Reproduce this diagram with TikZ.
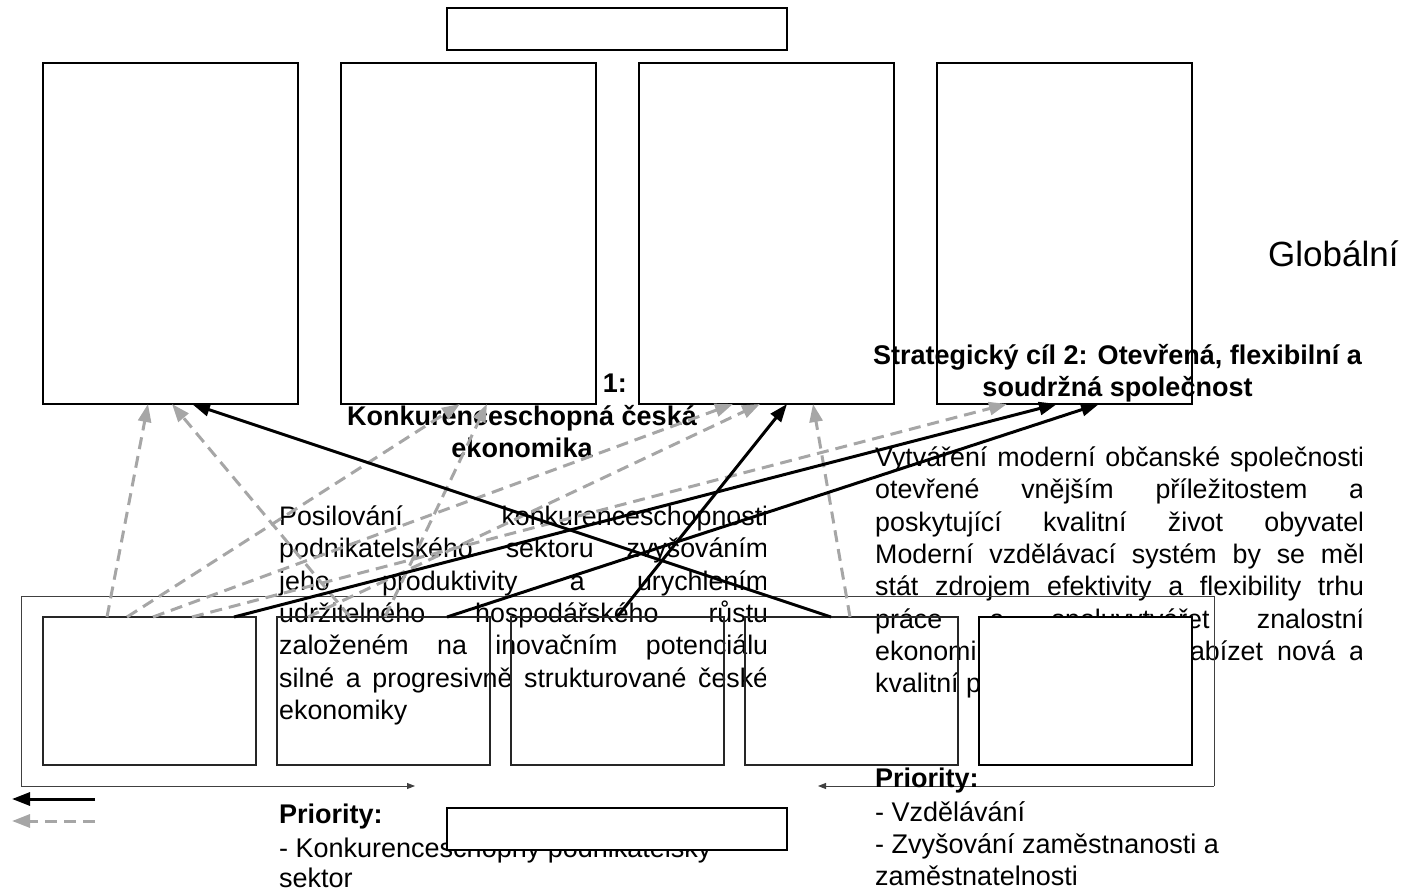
\documentclass[tikz,border=0pt]{standalone}
\usepackage{fontspec}
\setmainfont{Liberation Sans}
\usetikzlibrary{arrows.meta}
\begin{document}
\begin{tikzpicture}[x=1pt,y=-1pt,
  box/.style={draw=black, line width=1.2pt, fill=white, inner sep=0pt, outer sep=0pt, anchor=north west},
  obox/.style={draw=black!85, line width=1.1pt, inner sep=0pt, outer sep=0pt, anchor=north west},
  body/.style={inner sep=0pt, anchor=base west, font=\fontsize{26.8}{32}\selectfont},
  head/.style={inner sep=0pt, anchor=base, font=\fontsize{27}{32}\selectfont\bfseries},
  prio/.style={inner sep=0pt, anchor=base west, font=\fontsize{27}{32}\selectfont},
  priob/.style={inner sep=0pt, anchor=base west, font=\fontsize{27}{32}\selectfont\bfseries},
  framel/.style={draw=black!75, line width=0.9pt},
  framearr/.style={draw=black!75, line width=0.9pt, -{Triangle[length=8pt,width=6pt]}},
  sarr/.style={draw=black, line width=3pt, -{Triangle[length=18pt,width=13pt]}},
  darr/.style={draw=black!35, line width=3pt, dash pattern=on 12pt off 7pt, -{Triangle[length=18pt,width=13pt]}}
]
\useasboundingbox (0,0) rectangle (1403,890);

% top boxes
\node[box, minimum width=255pt, minimum height=341pt] (A) at (43,63) {};
\node[box, minimum width=255pt, minimum height=341pt] (B) at (341,63) {};
\node[box, minimum width=255pt, minimum height=341pt] (C) at (639,63) {};
\node[box, minimum width=255pt, minimum height=341pt] (D) at (937,63) {};
\node[box, minimum width=340pt, minimum height=42pt] (T) at (447,8) {};

% texts
\node[inner sep=0pt, anchor=base west, font=\fontsize{35}{40}\selectfont] (glob) at (1268,267) {Globální};
\node[head, anchor=base east] (h1a) at (627,393) {1:};
\node[head] (h1b) at (522,425) {Konkurenceschopná česká};
\node[head] (h1c) at (522,457) {ekonomika};
\node[head] (h2a) at (1117.5,365) {Strategický cíl 2: Otevřená, flexibilní a};
\node[head] (h2b) at (1117.5,397) {soudržná společnost};

\begin{scope}
\clip (270,480) rectangle (765,740);
\node[body] (l1) at (279,525) {\makebox[489pt][s]{Posilování konkurenceschopnosti}};
\node[body] (l2) at (279,557) {\makebox[489pt][s]{podnikatelského sektoru zvyšováním}};
\node[body] (l3) at (279,590) {\makebox[489pt][s]{jeho produktivity a urychlením}};
\node[body] (l4) at (279,622) {\makebox[489pt][s]{udržitelného hospodářského růstu}};
\node[body] (l5) at (279,654) {\makebox[489pt][s]{založeném na inovačním potenciálu}};
\node[body] (l6) at (279,687) {\makebox[489pt][s]{silné a progresivně strukturované české}};
\node[body] (l7) at (279,719) {ekonomiky};
\end{scope}

\begin{scope}
\clip (866,420) rectangle (1361,710);
\node[body] (r1) at (875,466) {\makebox[489pt][s]{Vytváření moderní občanské společnosti}};
\node[body] (r2) at (875,498) {\makebox[489pt][s]{otevřené vnějším příležitostem a}};
\node[body] (r3) at (875,531) {\makebox[489pt][s]{poskytující kvalitní život obyvatel}};
\node[body] (r4) at (875,563) {\makebox[489pt][s]{Moderní vzdělávací systém by se měl}};
\node[body] (r5) at (875,595) {\makebox[489pt][s]{stát zdrojem efektivity a flexibility trhu}};
\node[body] (r6) at (875,628) {\makebox[489pt][s]{práce a spoluvytvářet znalostní}};
\node[body] (r7) at (875,660) {\makebox[489pt][s]{ekonomiku, která bude nabízet nová a}};
\node[body] (r8) at (875,692) {kvalitní pracovní místa.};
\end{scope}

% bottom boxes
\node[obox, minimum width=213pt, minimum height=148pt] (P1) at (43,617) {};
\node[obox, minimum width=213pt, minimum height=148pt] (P2) at (277,617) {};
\node[obox, minimum width=213pt, minimum height=148pt] (P3) at (511,617) {};
\node[obox, minimum width=213pt, minimum height=148pt] (P4) at (745,617) {};

% frame
\node[inner sep=0pt, outer sep=0pt, anchor=north west, minimum width=1193pt, minimum height=190pt] (F) at (21,596) {};
\draw[framel] (F.south west) -- (F.north west) -- (F.north east) -- (F.south east);
\draw[framearr] (F.south west) -- ([xshift=394pt]F.south west);
\draw[framearr] (F.south east) -- ([xshift=-396pt]F.south east);

\node[box, minimum width=213pt, minimum height=148pt] (P5) at (979,617) {};

% priorities
\node[priob] (pl0) at (279,823) {Priority:};
\node[prio] (pl1) at (279,857) {- Konkurenceschopný podnikatelský};
\node[prio] (pl2) at (279,887) {sektor};
\node[priob] (pr0) at (875,787) {Priority:};
\node[prio] (pr1) at (875,821) {- Vzdělávání};
\node[prio] (pr2) at (875,853) {- Zvyšování zaměstnanosti a};
\node[prio] (pr3) at (875,885) {zaměstnatelnosti};

\node[box, minimum width=340pt, minimum height=42pt] (Bs) at (447,808) {};

% dashed connectors
\draw[darr] ([xshift=64pt]P1.north west) -- ([xshift=105pt]A.south west);
\draw[darr] ([xshift=84pt]P1.north west) -- ([xshift=119pt]B.south west);
\draw[darr] ([xshift=110pt]P1.north west) -- ([xshift=94pt]C.south west);
\draw[darr] ([xshift=149pt]P1.north west) -- ([xshift=70pt]D.south west);
\draw[darr] ([xshift=73pt]P2.north west) -- ([xshift=129pt]A.south west);
\draw[darr] ([xshift=108pt]P2.north west) -- ([xshift=146pt]B.south west);
\draw[darr] ([xshift=31pt]P2.north west) -- ([xshift=121pt]C.south west);
\draw[darr] ([xshift=105pt]P4.north west) -- ([xshift=174pt]C.south west);

% solid connectors
\draw[sarr] ([xshift=86pt]P4.north west) -- ([xshift=149pt]A.south west);
\draw[sarr] ([xshift=191pt]P1.north west) -- ([xshift=120pt]D.south west);
\draw[sarr] ([xshift=170pt]P2.north west) -- ([xshift=162pt]D.south west);
\draw[sarr] ([xshift=106pt]P3.north west) -- ([xshift=148pt]C.south west);

% legend
\coordinate (ls1) at (95,799);
\coordinate (le1) at (12,799);
\coordinate (ls2) at (95,821);
\coordinate (le2) at (12,821);
\draw[sarr] (ls1) -- (le1);
\draw[darr] (ls2) -- (le2);
\end{tikzpicture}
\end{document}
